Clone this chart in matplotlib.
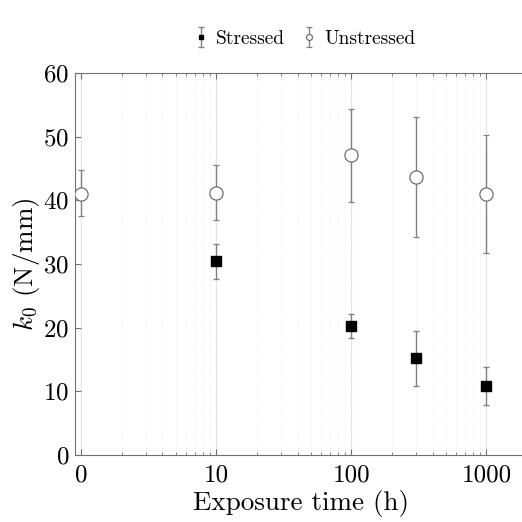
import numpy as np
import matplotlib
matplotlib.use('Agg')
import matplotlib.pyplot as plt
from matplotlib.ticker import FixedLocator, LogLocator, NullFormatter

plt.rcParams['font.family'] = 'serif'
plt.rcParams['font.serif'] = ['cmr10']
plt.rcParams['mathtext.fontset'] = 'cm'
plt.rcParams['axes.formatter.use_mathtext'] = True

# exposure time 0 is drawn at 1 on the log axis
tick_pos = [1, 10, 100, 1000]
tick_labels = ['0', '10', '100', '1000']

t_unstressed = np.array([1, 10, 100, 300, 1000])
k_unstressed = np.array([41.0, 41.2, 47.1, 43.7, 41.0])
lo_unstressed = np.array([37.5, 36.9, 39.7, 34.2, 31.8])
hi_unstressed = np.array([44.7, 45.6, 54.4, 53.1, 50.2])

t_stressed = np.array([10, 100, 300, 1000])
k_stressed = np.array([30.4, 20.2, 15.2, 10.8])
lo_stressed = np.array([27.6, 18.3, 10.9, 7.8])
hi_stressed = np.array([33.1, 22.1, 19.4, 13.8])

fig = plt.figure(figsize=(5.22, 5.22), dpi=100)
ax = fig.add_axes([75/522, 67/522, (527-75)/522, (455-73)/522])

ax.errorbar(t_stressed, k_stressed,
            yerr=[k_stressed - lo_stressed, hi_stressed - k_stressed],
            fmt='s', color='black', ms=7, mfc='black', mec='black',
            ecolor='#808080', elinewidth=1, capsize=2.2, capthick=1,
            label='Stressed', zorder=3)
ax.errorbar(t_unstressed, k_unstressed,
            yerr=[k_unstressed - lo_unstressed, hi_unstressed - k_unstressed],
            fmt='o', ms=9.5, mfc='white', mec='#707070', mew=0.9,
            ecolor='#808080', elinewidth=1, capsize=2.2, capthick=1,
            label='Unstressed', zorder=3)

ax.set_xscale('log')
ax.set_xlim(0.9, 2000)
ax.set_ylim(0, 60)
ax.xaxis.set_major_locator(FixedLocator(tick_pos))
ax.set_xticklabels(tick_labels)
ax.xaxis.set_minor_locator(LogLocator(base=10, subs=np.arange(2, 10)))
ax.xaxis.set_minor_formatter(NullFormatter())
ax.set_yticks(np.arange(0, 61, 10))

ax.grid(True, which='major', axis='x', color='#e4e4e4', lw=0.8)
ax.grid(True, which='minor', axis='x', color='#e8e8e8', lw=0.6, ls=':')
ax.set_axisbelow(True)

for s in ax.spines.values():
    s.set_color('#707070')
    s.set_linewidth(0.8)
ax.spines['right'].set_visible(False)

ax.tick_params(axis='both', which='both', direction='in', colors='#707070',
               labelcolor='black', labelsize=18, top=True)
ax.tick_params(axis='both', which='major', length=4)
ax.tick_params(axis='x', which='minor', length=2)
ax.tick_params(axis='x', pad=7)
ax.tick_params(axis='y', pad=4)

ax.set_xlabel('Exposure time (h)', fontsize=19.5, labelpad=2)
ax.set_ylabel(r'$k_0$ (N/mm)', fontsize=19.5, labelpad=1)

leg = ax.legend(loc='lower center', bbox_to_anchor=(0.507, 1.02), ncol=2,
                frameon=False, fontsize=14, handlelength=0.8,
                handletextpad=0.4, columnspacing=0.8, markerscale=0.45)

fig.savefig('out.png', dpi=100)
